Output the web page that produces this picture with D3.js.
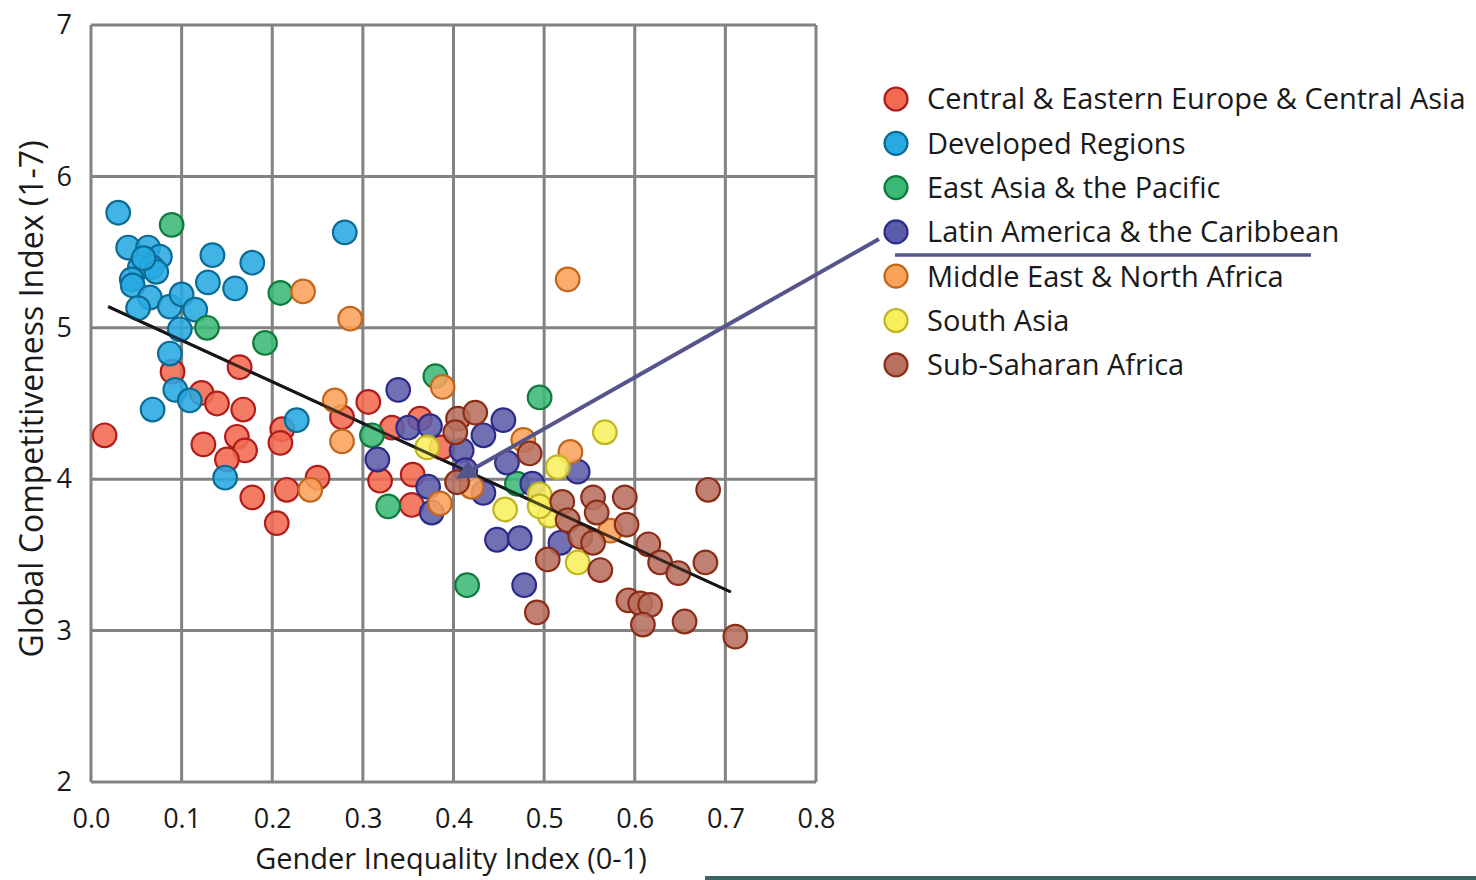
<!DOCTYPE html>
<html>
<head>
<meta charset="utf-8">
<script src="https://cdn.jsdelivr.net/npm/d3@7"></script>
<style>
  body { margin: 0; background: #fff; }
  svg { display: block; }
  text { font-family: "Open Sans", Lato, sans-serif; fill: #1a1a1a; }
</style>
</head>
<body>
<svg id="chart" width="1476" height="880"></svg>
<script>
// region names as in legend
var regions = [
  "Central & Eastern Europe & Central Asia",
  "Developed Regions",
  "East Asia & the Pacific",
  "Latin America & the Caribbean",
  "Middle East & North Africa",
  "South Asia",
  "Sub-Saharan Africa"
];
var fills   = ["#f26a4f", "#27a9e1", "#3cb877", "#5d5ca8", "#f9a25a", "#f8ef5d", "#b8705f"];
var strokes = ["#b01c1c", "#0b6b95", "#0f7a3c", "#2d2b8a", "#c2661c", "#bfb520", "#8a2c16"];

var xTicks = [0.0, 0.1, 0.2, 0.3, 0.4, 0.5, 0.6, 0.7, 0.8];
var yTicks = [2, 3, 4, 5, 6, 7];

// [gender inequality index, global competitiveness index]
var ceeData = [
  [0.015,4.29],[0.090,4.71],[0.122,4.57],[0.139,4.50],[0.164,4.74],[0.168,4.46],
  [0.124,4.23],[0.161,4.28],[0.170,4.19],[0.150,4.13],[0.211,4.33],[0.209,4.24],
  [0.178,3.88],[0.216,3.93],[0.250,4.01],[0.205,3.71],[0.277,4.41],[0.306,4.51],
  [0.332,4.34],[0.363,4.40],[0.387,4.21],[0.319,3.99],[0.355,4.03],[0.354,3.83]
];
var developedData = [
  [0.030,5.76],[0.041,5.53],[0.063,5.53],[0.076,5.47],[0.054,5.40],[0.067,5.40],
  [0.045,5.32],[0.134,5.48],[0.178,5.43],[0.129,5.30],[0.159,5.26],[0.046,5.28],
  [0.065,5.20],[0.052,5.13],[0.087,5.14],[0.100,5.22],[0.115,5.12],[0.098,4.99],
  [0.087,4.83],[0.093,4.59],[0.109,4.52],[0.068,4.46],[0.227,4.39],[0.148,4.01],
  [0.280,5.63],[0.072,5.37],[0.058,5.46]
];
var eastAsiaData = [
  [0.089,5.68],[0.209,5.23],[0.128,5.00],[0.192,4.90],[0.380,4.68],[0.495,4.54],
  [0.310,4.29],[0.328,3.82],[0.415,3.30],[0.470,3.97]
];
var latinData = [
  [0.339,4.59],[0.350,4.34],[0.374,4.35],[0.316,4.13],[0.409,4.19],[0.455,4.39],
  [0.433,4.29],[0.459,4.11],[0.487,3.97],[0.537,4.05],[0.372,3.95],[0.433,3.91],
  [0.376,3.78],[0.448,3.60],[0.473,3.61],[0.518,3.58],[0.478,3.30],[0.413,4.06]
];
var meData = [
  [0.234,5.24],[0.286,5.06],[0.526,5.32],[0.269,4.52],[0.277,4.25],[0.242,3.93],
  [0.388,4.61],[0.477,4.26],[0.529,4.18],[0.420,3.95],[0.385,3.84],[0.573,3.66]
];
var southAsiaData = [
  [0.371,4.21],[0.567,4.31],[0.515,4.08],[0.495,3.90],[0.457,3.80],[0.506,3.76],
  [0.495,3.82],[0.537,3.45]
];
var ssaData = [
  [0.405,4.40],[0.424,4.44],[0.402,4.31],[0.404,3.98],[0.484,4.17],[0.504,3.47],
  [0.492,3.12],[0.520,3.85],[0.554,3.88],[0.589,3.88],[0.681,3.93],[0.526,3.73],
  [0.558,3.78],[0.591,3.70],[0.540,3.62],[0.554,3.58],[0.615,3.57],[0.628,3.45],
  [0.648,3.38],[0.678,3.45],[0.562,3.40],[0.593,3.20],[0.606,3.18],[0.617,3.17],
  [0.609,3.04],[0.655,3.06],[0.711,2.96]
];
var seriesData = [ceeData, developedData, eastAsiaData, latinData, meData, southAsiaData, ssaData];

// fitted trend line ends
var trendLine = [[0.019, 5.14], [0.706, 3.255]];
// point the callout arrow lands on
var arrowTarget = [0.400, 3.99];

var svg = d3.select("#chart");

var x = d3.scaleLinear().domain([0, 0.8]).range([91, 816]);
var y = d3.scaleLinear().domain([2, 7]).range([782, 25]);

var grey = "#828282";

// grid
var grid = svg.append("g");
grid.selectAll("line.v").data(xTicks).enter().append("line")
    .attr("x1", function (d) { return x(d); })
    .attr("x2", function (d) { return x(d); })
    .attr("y1", y(7)).attr("y2", y(2))
    .style("stroke", grey).style("stroke-width", 3);
grid.selectAll("line.h").data(yTicks).enter().append("line")
    .attr("x1", x(0)).attr("x2", x(0.8))
    .attr("y1", function (d) { return y(d); })
    .attr("y2", function (d) { return y(d); })
    .style("stroke", grey).style("stroke-width", 3);

// axes (labels only, lines are the grid)
var xAxis = svg.append("g")
    .attr("transform", "translate(0," + (y(2) + 24) + ")")
    .call(d3.axisBottom(x).tickValues(xTicks).tickFormat(d3.format(".1f")).tickSize(0));
var yAxis = svg.append("g")
    .attr("transform", "translate(" + (x(0) - 16) + ",0)")
    .call(d3.axisLeft(y).tickValues(yTicks).tickFormat(d3.format("d")).tickSize(0));
[xAxis, yAxis].forEach(function (a) {
    a.select(".domain").remove();
    a.selectAll("text")
        .style("font-family", "'Open Sans', sans-serif")
        .style("font-size", "27px")
        .style("fill", "#1a1a1a");
});
xAxis.selectAll("text").attr("dy", "0.71em");

svg.append("text")
    .attr("x", 451).attr("y", 869)
    .attr("text-anchor", "middle")
    .style("font-size", "29px")
    .text("Gender Inequality Index (0-1)");
svg.append("text")
    .attr("transform", "translate(43,399) rotate(-90)")
    .attr("text-anchor", "middle")
    .style("font-size", "32px")
    .text("Global Competitiveness Index (1-7)");

// trend line
svg.append("line")
    .attr("x1", x(trendLine[0][0])).attr("y1", y(trendLine[0][1]))
    .attr("x2", x(trendLine[1][0])).attr("y2", y(trendLine[1][1]))
    .style("stroke", "#222").style("stroke-width", 3);

// points
seriesData.forEach(function (pts, i) {
    svg.append("g").selectAll("circle").data(pts).enter().append("circle")
        .attr("cx", function (d) { return x(d[0]); })
        .attr("cy", function (d) { return y(d[1]); })
        .attr("r", 11.8)
        .style("fill", fills[i])
        .style("fill-opacity", 0.88)
        .style("stroke", strokes[i])
        .style("stroke-width", 2.2);
});

// re-draw trend line on top so it shows through markers
svg.append("line")
    .attr("x1", x(trendLine[0][0])).attr("y1", y(trendLine[0][1]))
    .attr("x2", x(trendLine[1][0])).attr("y2", y(trendLine[1][1]))
    .style("stroke", "#111").style("stroke-width", 3).style("opacity", 0.75);

// legend
var legend = svg.append("g").attr("transform", "translate(896,99)");
var rows = legend.selectAll("g").data(regions).enter().append("g")
    .attr("transform", function (d, i) { return "translate(0," + (i * 44.3) + ")"; });
rows.append("circle")
    .attr("r", 11.5)
    .style("fill", function (d, i) { return fills[i]; })
    .style("stroke", function (d, i) { return strokes[i]; })
    .style("stroke-width", 2.2);
var labels = rows.append("text")
    .attr("x", 31).attr("dy", "0.36em")
    .style("font-size", "29px")
    .text(function (d) { return d; });
// squeeze labels horizontally so the longest ends near the right edge
var widest = d3.max(labels.nodes(), function (n) { return n.getComputedTextLength(); });
var squeeze = Math.min(1, 543 / widest);
labels.each(function () {
    d3.select(this)
        .attr("textLength", this.getComputedTextLength() * squeeze)
        .attr("lengthAdjust", "spacingAndGlyphs");
});

// callout: underline and arrow to Latin America point
var calloutColor = "#55558c";
svg.append("line")
    .attr("x1", 895).attr("x2", 1311).attr("y1", 255).attr("y2", 255)
    .style("stroke", calloutColor).style("stroke-width", 3.5);

svg.append("defs").append("marker")
    .attr("id", "head")
    .attr("viewBox", "0 0 10 10")
    .attr("refX", 8).attr("refY", 5)
    .attr("markerWidth", 5).attr("markerHeight", 5)
    .attr("markerUnits", "strokeWidth")
    .attr("orient", "auto")
  .append("path")
    .attr("d", "M0,0 L10,5 L0,10 z")
    .style("fill", calloutColor);
svg.append("line")
    .attr("x1", 879).attr("y1", 239)
    .attr("x2", x(arrowTarget[0]) + 6).attr("y2", y(arrowTarget[1]) - 4)
    .attr("marker-end", "url(#head)")
    .style("stroke", calloutColor).style("stroke-width", 4);

// strip at the bottom edge
svg.append("rect")
    .attr("x", 705).attr("y", 876).attr("width", 771).attr("height", 4)
    .style("fill", "#3a6565");
</script>
</body>
</html>
